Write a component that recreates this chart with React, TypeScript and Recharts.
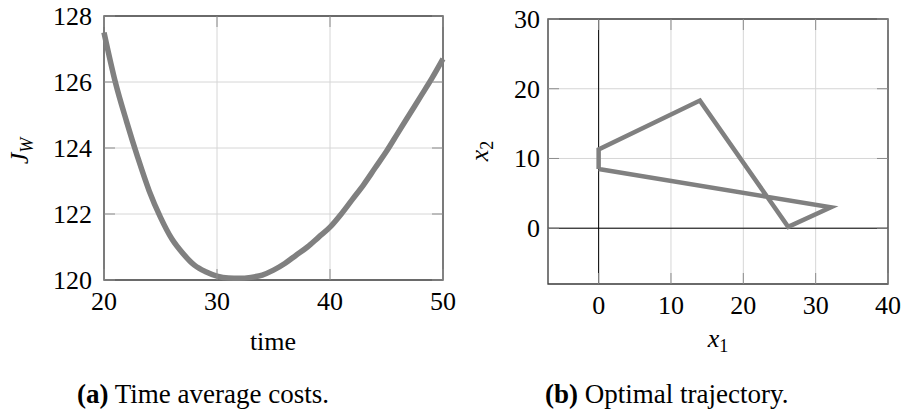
import React from 'react';
import { LineChart, Line, XAxis, YAxis, CartesianGrid, ReferenceArea, ReferenceLine } from 'recharts';

const FONT = 'Liberation Serif, serif';
const GRID = '#d6d6d6';
const TICK = '#8c8c8c';
const FRAME = '#404040';
const CURVE = '#808080';

// (a) time average cost J_W against time
const times = [20, 21, 22, 23, 24, 25, 26, 27, 28, 29, 30, 31, 32, 33, 34, 35, 36, 37, 38, 39, 40, 41, 42, 43, 44, 45, 46, 47, 48, 49, 50];
const costs = [
  127.5, 126.0, 124.8, 123.7, 122.7, 121.9, 121.25, 120.8, 120.45, 120.25, 120.12, 120.06, 120.05,
  120.08, 120.15, 120.3, 120.5, 120.75, 121.0, 121.3, 121.6, 122.0, 122.45, 122.9, 123.4, 123.9,
  124.45, 125.0, 125.55, 126.1, 126.7,
];
const timeTicks = [20, 30, 40, 50];
const costTicks = [120, 122, 124, 126, 128];

// (b) optimal trajectory in the (x1, x2) plane
const trajX1 = [0, 0, 14, 26.2, 32.1, 0];
const trajX2 = [8.5, 11.3, 18.3, 0.2, 3.0, 8.5];
const x1Ticks = [0, 10, 20, 30, 40];
const x2Ticks = [0, 10, 20, 30];

const costData = times.map((t, i) => ({ t, cost: costs[i] }));
const trajData = trajX1.map((x, i) => ({ x, y: trajX2[i] }));

const TICK_LEN = 11;
const tickText = { fontFamily: FONT, fontSize: 26 };

// y tick: label left of the frame plus short inner marks on both sides
function YTick(props: any) {
  const { y, payload, plotLeft, plotRight, gap } = props;
  return (
    <g>
      <line x1={plotLeft} x2={plotLeft + TICK_LEN} y1={y} y2={y} stroke={TICK} strokeWidth={1} />
      <line x1={plotRight - TICK_LEN} x2={plotRight} y1={y} y2={y} stroke={TICK} strokeWidth={1} />
      <text x={plotLeft - gap} y={y + 9} textAnchor="end" fill="#000" style={tickText}>
        {String(payload.value)}
      </text>
    </g>
  );
}

// x tick: label under the frame plus short inner marks at bottom and top
function XTick(props: any) {
  const { x, payload, plotTop, plotBottom } = props;
  return (
    <g>
      <line x1={x} x2={x} y1={plotBottom} y2={plotBottom - TICK_LEN} stroke={TICK} strokeWidth={1} />
      <line x1={x} x2={x} y1={plotTop} y2={plotTop + TICK_LEN} stroke={TICK} strokeWidth={1} />
      <text x={x} y={plotBottom + 30} textAnchor="middle" fill="#000" style={tickText}>
        {String(payload.value)}
      </text>
    </g>
  );
}

function CostChart() {
  const left = 104, right = 443, top = 16, bottom = 280;
  return (
    <LineChart width={460} height={413} data={costData} margin={{ top, right: 460 - right, bottom: 0, left: 0 }}>
      <CartesianGrid stroke={GRID} />
      <XAxis
        type="number"
        dataKey="t"
        domain={[20, 50]}
        ticks={timeTicks}
        height={413 - bottom}
        axisLine={false}
        tickLine={false}
        tick={<XTick plotTop={top} plotBottom={bottom} />}
      />
      <YAxis
        type="number"
        domain={[120, 128]}
        ticks={costTicks}
        width={left}
        axisLine={false}
        tickLine={false}
        tick={<YTick plotLeft={left} plotRight={right} gap={12} />}
      />
      <ReferenceArea x1={20} x2={50} y1={120} y2={128} fill="none" stroke={FRAME} strokeWidth={1.3} />
      <Line type="monotone" dataKey="cost" stroke={CURVE} strokeWidth={5.5} dot={false} isAnimationActive={false} />
    </LineChart>
  );
}

function TrajectoryChart() {
  const left = 88, right = 428, top = 19, bottom = 284;
  return (
    <LineChart width={444} height={413} data={trajData} margin={{ top, right: 444 - right, bottom: 0, left: 0 }}>
      <CartesianGrid stroke={GRID} />
      <XAxis
        type="number"
        dataKey="x"
        domain={[-7, 40]}
        ticks={x1Ticks}
        height={413 - bottom}
        axisLine={false}
        tickLine={false}
        tick={<XTick plotTop={top} plotBottom={bottom} />}
      />
      <YAxis
        type="number"
        domain={[-8, 30]}
        ticks={x2Ticks}
        width={left}
        axisLine={false}
        tickLine={false}
        tick={<YTick plotLeft={left} plotRight={right} gap={8} />}
      />
      <ReferenceLine x={0} stroke="#000" strokeWidth={1} />
      <ReferenceLine y={0} stroke="#000" strokeWidth={1} />
      <ReferenceArea x1={-7} x2={40} y1={-8} y2={30} fill="none" stroke={FRAME} strokeWidth={1.3} />
      <Line
        type="linear"
        dataKey="y"
        stroke={CURVE}
        strokeWidth={4.5}
        strokeLinejoin="miter"
        dot={false}
        isAnimationActive={false}
      />
    </LineChart>
  );
}

export default function App() {
  return (
    <div style={{ position: 'absolute', left: 0, top: 0, width: 904, height: 413, background: '#fff' }}>
      <div style={{ position: 'absolute', left: 0, top: 0 }}>
        <CostChart />
      </div>
      <div style={{ position: 'absolute', left: 460, top: 0 }}>
        <TrajectoryChart />
      </div>
      <svg
        width={904}
        height={413}
        style={{ position: 'absolute', left: 0, top: 0, pointerEvents: 'none', fontFamily: FONT }}
      >
        {/* axis titles */}
        <text transform="translate(28,151) rotate(-90)" textAnchor="middle" fontSize={26} fontStyle="italic">
          J<tspan fontSize={18} dy={5}>W</tspan>
        </text>
        <text x={273} y={350} textAnchor="middle" fontSize={26}>time</text>
        <text transform="translate(488,151) rotate(-90)" textAnchor="middle" fontSize={26}>
          <tspan fontStyle="italic">x</tspan>
          <tspan fontSize={18} dy={5}>2</tspan>
        </text>
        <text x={718} y={347} textAnchor="middle" fontSize={26}>
          <tspan fontStyle="italic">x</tspan>
          <tspan fontSize={18} dy={5}>1</tspan>
        </text>
        {/* captions */}
        <text x={77} y={402.5} fontSize={27}>
          <tspan fontWeight="bold">(a)</tspan> Time average costs.
        </text>
        <text x={545} y={402.5} fontSize={27}>
          <tspan fontWeight="bold">(b)</tspan> Optimal trajectory.
        </text>
      </svg>
    </div>
  );
}
